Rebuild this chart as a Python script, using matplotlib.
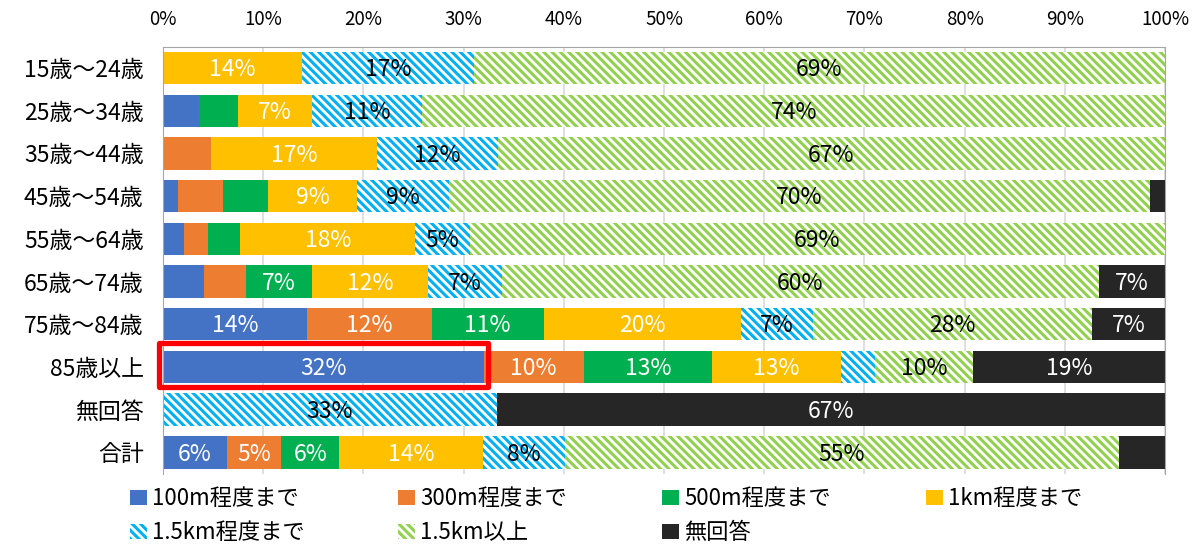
import matplotlib
matplotlib.use('Agg')
import matplotlib.pyplot as plt
import matplotlib.ticker as ticker
from matplotlib.patches import Rectangle, Patch
import numpy as np

plt.rcParams['font.family'] = ['Noto Sans CJK JP', 'DejaVu Sans']
plt.rcParams['hatch.linewidth'] = 2.2

categories = ['15歳～24歳', '25歳～34歳', '35歳～44歳', '45歳～54歳', '55歳～64歳',
              '65歳～74歳', '75歳～84歳', '85歳以上', '無回答', '合計']

d100 = [0, 3.6, 0, 1.5, 2.1, 4.1, 14.4, 32.0, 0, 6.4]
d300 = [0, 0, 4.8, 4.5, 2.4, 4.2, 12.4, 10.0, 0, 5.4]
d500 = [0, 3.9, 0, 4.5, 3.2, 6.6, 11.2, 12.8, 0, 5.8]
d1k = [13.9, 7.4, 16.6, 8.9, 17.5, 11.5, 19.7, 12.9, 0, 14.3]
d15k = [17.1, 11.0, 12.0, 9.1, 5.4, 7.4, 7.2, 3.4, 33.3, 8.2]
dover = [69.0, 74.1, 66.6, 70.0, 69.4, 59.6, 27.8, 9.7, 0, 55.3]
dna = [0, 0, 0, 1.5, 0, 6.6, 7.3, 19.2, 66.7, 4.6]

series_names = ['100m程度まで', '300m程度まで', '500m程度まで', '1km程度まで',
                '1.5km程度まで', '1.5km以上', '無回答']
series = [d100, d300, d500, d1k, d15k, dover, dna]
colors = ['#4472C4', '#ED7D31', '#00B050', '#FFC000', '#00B0F0', '#92D050', '#262626']
hatched = [False, False, False, False, True, True, False]

fig = plt.figure(figsize=(12.01, 5.44), dpi=100)
ax = fig.add_axes([0.1357, 0.1292, 0.8343, 0.785])

y = np.arange(len(categories))
left = np.zeros(len(categories))
handles = []
for name, vals, col, hat in zip(series_names, series, colors, hatched):
    vals = np.array(vals)
    if hat:
        ax.barh(y, vals, left=left, height=0.76, color='white',
                edgecolor=col, hatch='\\\\\\\\', linewidth=0, zorder=2)
        h = Patch(facecolor='white', edgecolor=col, hatch='\\\\\\\\', linewidth=0)
        tcol = 'black'
    else:
        ax.barh(y, vals, left=left, height=0.76, color=col, linewidth=0, zorder=2)
        h = Patch(facecolor=col, linewidth=0)
        tcol = 'white'
    handles.append(h)
    for yi, l, v in zip(y, left, vals):
        if v >= 5:
            ax.text(l + v / 2, yi + 0.04, f"{int(v + 0.5)}%", ha='center', va='center',
                    color=tcol, fontsize=16.5, zorder=4)
    left = left + vals

# red box around the 85歳以上 / 100m segment
i85 = categories.index('85歳以上')
ax.add_patch(Rectangle((-0.4, i85 - 0.55), d100[i85] + 0.8, 1.03, fill=False,
                       edgecolor='#FF0000', linewidth=3.8, zorder=5, clip_on=False,
                       joinstyle='round'))

ax.set_xlim(0, 100)
ax.set_ylim(len(categories) - 0.5, -0.5)
ax.set_yticks(y)
ax.set_yticklabels(categories, fontsize=16.5)
ax.xaxis.set_major_locator(ticker.MultipleLocator(10))
ax.xaxis.set_major_formatter(ticker.FuncFormatter(lambda x, _: f"{x:.0f}%"))
ax.xaxis.tick_top()
ax.tick_params(axis='x', length=0, labelsize=13.5, pad=12)
ax.tick_params(axis='y', length=0, pad=14)
ax.grid(True, axis='x', color='#D9D9D9', linewidth=1.2, zorder=0)
ax.set_axisbelow(True)
for s in ax.spines.values():
    s.set_color('#A6A6A6')
ax.spines['bottom'].set_visible(False)

# legend: one small legend per column, row-major order like the original
col_x = [130, 398, 662, 926]
for c, x0 in enumerate(col_x):
    idx = [i for i in (c, c + 4) if i < len(series_names)]
    fig.legend([handles[i] for i in idx], [series_names[i] for i in idx],
               loc='upper left', bbox_to_anchor=(x0 / 1201, 1 - 487 / 544),
               frameon=False, fontsize=16, handlelength=0.75, handleheight=0.65,
               handletextpad=0.25, labelspacing=0.5, borderaxespad=0,
               borderpad=0)

fig.savefig('out.png', dpi=100)
